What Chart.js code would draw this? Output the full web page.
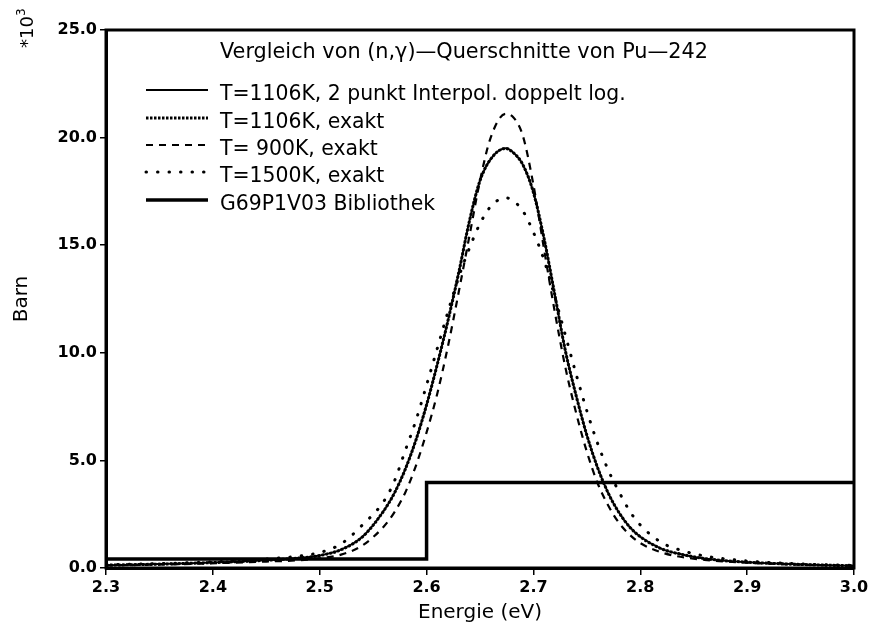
<!DOCTYPE html>
<html><head><meta charset="utf-8">
<script src="https://cdn.jsdelivr.net/npm/chart.js@4.4.0/dist/chart.umd.min.js"></script>
<style>html,body{margin:0;padding:0;background:#fff;}#wrap{width:875px;height:627px;position:relative;}</style>
</head><body><div id="wrap"><canvas id="c" width="875" height="627"></canvas></div>
<script>
// Energy grid (eV) shared by the four resonance curves
const energy = [2.30, 2.34, 2.38, 2.42, 2.45, 2.48, 2.50, 2.52, 2.54, 2.56, 2.57, 2.58, 2.59, 2.60, 2.61, 2.62, 2.63, 2.64, 2.65, 2.66, 2.674, 2.68, 2.69, 2.70, 2.71, 2.72, 2.73, 2.74, 2.75, 2.76, 2.77, 2.78, 2.79, 2.80, 2.82, 2.84, 2.86, 2.89, 2.92, 2.96, 3.00];
// Cross sections in units of 10^3 barn
const interp1106 = [0.13, 0.17, 0.22, 0.29, 0.36, 0.46, 0.58, 0.85, 1.45, 2.66, 3.49, 4.58, 5.94, 7.58, 9.46, 11.49, 13.7, 16.1, 18.0, 19.0, 19.5, 19.35, 18.75, 17.45, 15.3, 12.7, 10.07, 8.0, 6.17, 4.67, 3.48, 2.58, 1.91, 1.45, 0.89, 0.62, 0.44, 0.30, 0.22, 0.15, 0.10];
const exakt1106 = [0.13, 0.17, 0.22, 0.29, 0.36, 0.46, 0.58, 0.85, 1.45, 2.66, 3.49, 4.58, 5.94, 7.58, 9.46, 11.49, 13.7, 16.1, 18.0, 19.0, 19.5, 19.35, 18.75, 17.45, 15.3, 12.7, 10.07, 8.0, 6.17, 4.67, 3.48, 2.58, 1.91, 1.45, 0.89, 0.62, 0.44, 0.30, 0.22, 0.15, 0.10];
const exakt900 = [0.12, 0.15, 0.19, 0.25, 0.30, 0.36, 0.45, 0.62, 1.05, 1.93, 2.6, 3.5, 4.75, 6.3, 8.1, 10.3, 12.8, 15.4, 18.0, 20.0, 21.1, 21.0, 20.1, 17.8, 14.8, 11.9, 9.3, 7.2, 5.4, 3.95, 2.9, 2.1, 1.55, 1.16, 0.72, 0.50, 0.38, 0.27, 0.20, 0.14, 0.10];
const exakt1500 = [0.15, 0.19, 0.25, 0.33, 0.42, 0.55, 0.72, 1.12, 2.0, 3.1, 4.05, 5.45, 6.85, 8.5, 10.2, 11.9, 13.5, 14.85, 16.0, 16.8, 17.2, 17.1, 16.6, 15.6, 14.3, 12.6, 10.8, 9.0, 7.3, 5.8, 4.55, 3.55, 2.65, 2.0, 1.18, 0.80, 0.56, 0.37, 0.26, 0.17, 0.12];
// Group library (step function)
const bibEnergy = [2.30, 2.60, 2.60, 3.00];
const bibBarn = [0.42, 0.42, 3.97, 3.97];
// Axis ticks
const xTicks = [2.3, 2.4, 2.5, 2.6, 2.7, 2.8, 2.9, 3.0];
const yTicks = [0, 5, 10, 15, 20, 25];
const titleText = 'Vergleich von (n,γ)—Querschnitte von Pu—242';
const seriesLabels = ['T=1106K, 2 punkt Interpol. doppelt log.', 'T=1106K, exakt', 'T= 900K, exakt', 'T=1500K, exakt', 'G69P1V03 Bibliothek'];

const FONT = "'DejaVu Sans', sans-serif";
const toXY = (xs, ys) => xs.map((x, i) => ({x: x, y: ys[i]}));

const styles = [
  {borderWidth: 2, borderDash: [], cap: 'butt'},
  {borderWidth: 3, borderDash: [2.5, 1.5], cap: 'butt'},
  {borderWidth: 2.2, borderDash: [7, 6], cap: 'butt'},
  {borderWidth: 3, borderDash: [0.5, 11], cap: 'round'},
  {borderWidth: 3.5, borderDash: [], cap: 'butt'}
];
const seriesData = [toXY(energy, interp1106), toXY(energy, exakt1106), toXY(energy, exakt900), toXY(energy, exakt1500), toXY(bibEnergy, bibBarn)];

const datasets = seriesData.map((d, i) => ({
  label: seriesLabels[i],
  data: d,
  borderColor: '#000',
  backgroundColor: '#000',
  borderWidth: styles[i].borderWidth,
  borderDash: styles[i].borderDash,
  borderCapStyle: styles[i].cap,
  pointRadius: 0,
  fill: false,
  tension: i === 4 ? 0 : 0.4,
  cubicInterpolationMode: i === 4 ? 'default' : 'monotone'
}));

const overlayPlugin = {
  id: 'overlay',
  afterDraw(chart) {
    const ctx = chart.ctx;
    const a = chart.chartArea;
    ctx.save();
    // frame
    ctx.strokeStyle = '#000';
    ctx.lineWidth = 3;
    ctx.strokeRect(a.left, a.top, a.right - a.left, a.bottom - a.top);
    // title inside plot
    ctx.fillStyle = '#000';
    ctx.font = '20.8px ' + FONT;
    ctx.textBaseline = 'alphabetic';
    ctx.textAlign = 'left';
    ctx.fillText(titleText, 220, 57.5);
    // legend
    ctx.font = '20.4px ' + FONT;
    const rows = [93, 121, 148, 175, 203];
    rows.forEach((cy, i) => {
      const st = styles[i];
      ctx.beginPath();
      ctx.lineWidth = st.borderWidth;
      ctx.setLineDash(st.borderDash);
      ctx.lineCap = st.cap;
      ctx.moveTo(146, cy - 3);
      ctx.lineTo(208, cy - 3);
      ctx.stroke();
      ctx.setLineDash([]);
      ctx.lineCap = 'butt';
      ctx.fillText(seriesLabels[i], 220, cy + 7.3);
    });
    // *10^3 multiplier (rotated)
    ctx.translate(33, 48);
    ctx.rotate(-Math.PI / 2);
    ctx.font = '18px ' + FONT;
    ctx.fillText('*10', 0, 0);
    const w = ctx.measureText('*10').width;
    ctx.font = '12px ' + FONT;
    ctx.fillText('3', w, -8);
    ctx.restore();
  }
};

new Chart(document.getElementById('c'), {
  type: 'line',
  data: {datasets: datasets},
  options: {
    responsive: false,
    animation: false,
    devicePixelRatio: 1,
    layout: {padding: {top: 30, right: 21, left: 0, bottom: 0}},
    plugins: {legend: {display: false}, tooltip: {enabled: false}, title: {display: false}},
    scales: {
      x: {
        type: 'linear', min: 2.3, max: 3.0,
        afterBuildTicks: s => { s.ticks = xTicks.map(v => ({value: v})); },
        afterFit: s => { s.height = 59; },
        ticks: {callback: v => Number(v).toFixed(1), font: {family: FONT, size: 16, weight: 'bold'}, color: '#000', padding: 3, maxRotation: 0, autoSkip: false},
        grid: {drawOnChartArea: false, drawTicks: true, tickLength: 7, color: '#000', lineWidth: 1.5},
        border: {display: true, color: '#000', width: 3},
        title: {display: true, text: 'Energie (eV)', font: {family: FONT, size: 20}, color: '#000', padding: {top: 0, bottom: 2}}
      },
      y: {
        type: 'linear', min: 0, max: 25,
        afterBuildTicks: s => { s.ticks = yTicks.map(v => ({value: v})); },
        afterFit: s => { s.width = 106; },
        ticks: {callback: v => Number(v).toFixed(1), font: {family: FONT, size: 16, weight: 'bold'}, color: '#000', padding: 3},
        grid: {drawOnChartArea: false, drawTicks: true, tickLength: 6, color: '#000', lineWidth: 1.5},
        border: {display: true, color: '#000', width: 3},
        title: {display: true, text: 'Barn', font: {family: FONT, size: 20}, color: '#000', padding: {top: 10, bottom: 0}}
      }
    }
  },
  plugins: [overlayPlugin]
});
</script>
</body></html>
